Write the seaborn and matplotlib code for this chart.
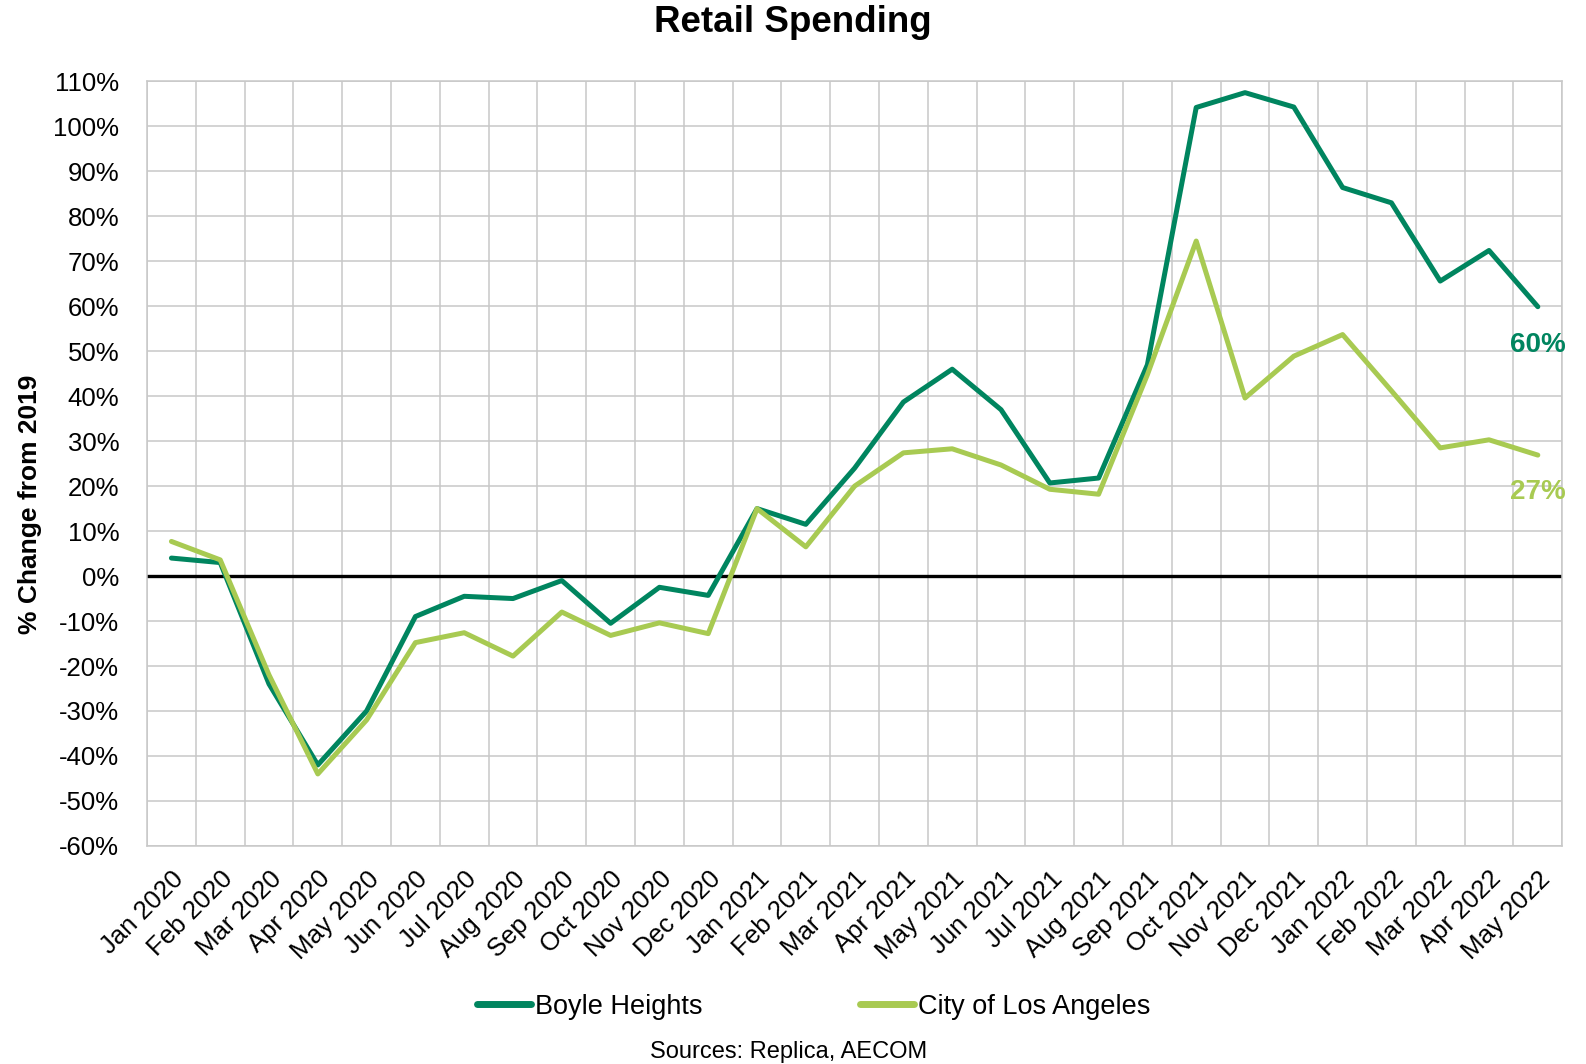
import matplotlib
matplotlib.use('Agg')
import matplotlib.pyplot as plt
import seaborn as sns
import pandas as pd
from matplotlib.ticker import FixedLocator, FuncFormatter

# ── Data ──────────────────────────────────────────────────────────────────────
months = ['Jan 2020', 'Feb 2020', 'Mar 2020', 'Apr 2020', 'May 2020', 'Jun 2020',
          'Jul 2020', 'Aug 2020', 'Sep 2020', 'Oct 2020', 'Nov 2020', 'Dec 2020',
          'Jan 2021', 'Feb 2021', 'Mar 2021', 'Apr 2021', 'May 2021', 'Jun 2021',
          'Jul 2021', 'Aug 2021', 'Sep 2021', 'Oct 2021', 'Nov 2021', 'Dec 2021',
          'Jan 2022', 'Feb 2022', 'Mar 2022', 'Apr 2022', 'May 2022']

boyle = [4.0, 3.0, -24.0, -42.0, -30.0, -9.0, -4.5, -5.0, -1.0, -10.5, -2.5, -4.3,
         15.0, 11.5, 24.0, 38.7, 46.0, 37.0, 20.7, 21.8, 47.0, 104.2, 107.5, 104.3,
         86.4, 83.0, 65.6, 72.4, 59.9]

la_city = [7.7, 3.6, -22.0, -44.0, -32.0, -14.8, -12.6, -17.8, -8.0, -13.2, -10.4, -12.8,
           15.0, 6.5, 20.0, 27.4, 28.3, 24.7, 19.3, 18.2, 44.8, 74.5, 39.6, 48.9,
           53.7, 41.2, 28.5, 30.3, 26.9]

series_names = ['Boyle Heights', 'City of Los Angeles']
colors = ['#00855F', '#A8CA52']

df = pd.DataFrame({
    'month': months * 2,
    'series': [series_names[0]] * len(months) + [series_names[1]] * len(months),
    'value': boyle + la_city,
})

# ── Plot ──────────────────────────────────────────────────────────────────────
sns.set_theme(style='white')
plt.rcParams['font.family'] = ['Liberation Sans', 'DejaVu Sans']
plt.rcParams['text.color'] = 'black'
plt.rcParams['axes.labelcolor'] = 'black'
plt.rcParams['xtick.color'] = 'black'
plt.rcParams['ytick.color'] = 'black'

fig = plt.figure(figsize=(15.86, 10.64), dpi=100)
ax = fig.add_axes([0.0927, 0.205, 0.8923, 0.7185])

sns.lineplot(data=df, x='month', y='value', hue='series', palette=colors,
             linewidth=3.6, ax=ax, sort=False, legend=False)

ax.set_xlim(-0.5, len(months) - 0.5)
ax.set_ylim(-60, 110)

# gridlines between categories, labels at category centres
ax.xaxis.set_major_locator(FixedLocator(range(len(months))))
ax.xaxis.set_minor_locator(FixedLocator([i - 0.5 for i in range(len(months) + 1)]))
ax.set_xticklabels(months, rotation=45, ha='right', rotation_mode='anchor', fontsize=18.5)
ax.set_yticks(range(-60, 111, 10))
ax.yaxis.set_major_formatter(FuncFormatter(lambda v, _: f'{int(v)}%'))
ax.tick_params(axis='y', labelsize=18.5, length=0, pad=20)
ax.tick_params(axis='x', which='both', length=0, pad=15)

ax.grid(which='minor', axis='x', color='#C8C8C8', linewidth=1.1)
ax.grid(which='major', axis='y', color='#C8C8C8', linewidth=1.1)
ax.set_axisbelow(True)
for sp in ax.spines.values():
    sp.set_color('#C8C8C8')
    sp.set_linewidth(1.1)

ax.axhline(0, color='black', linewidth=2.4, zorder=1.5)

ax.set_xlabel('')
ax.set_ylabel('% Change from 2019', fontsize=19, fontweight='bold')
ax.yaxis.set_label_coords(-0.074, 0.447)

# end labels
ax.text(len(months) - 1, 51.3, f'{boyle[-1]:.0f}%', color=colors[0], fontsize=20,
        fontweight='bold', ha='center', va='center')
ax.text(len(months) - 1, 18.7, f'{la_city[-1]:.0f}%', color=colors[1], fontsize=20,
        fontweight='bold', ha='center', va='center')

fig.suptitle('Retail Spending', fontsize=26.5, fontweight='bold', x=0.5, y=0.995, va='top')

handles = [plt.Line2D([], [], color=c, linewidth=5, solid_capstyle='round') for c in colors]
fig.legend(handles, series_names, loc='center', bbox_to_anchor=(0.513, 0.0536), ncol=2,
           frameon=False, fontsize=19.5, handlelength=2.0, handletextpad=0.15,
           columnspacing=5.8)

fig.text(0.497, 0.0113, 'Sources: Replica, AECOM', ha='center', va='center', fontsize=17)

fig.savefig('out.png', dpi=100)
